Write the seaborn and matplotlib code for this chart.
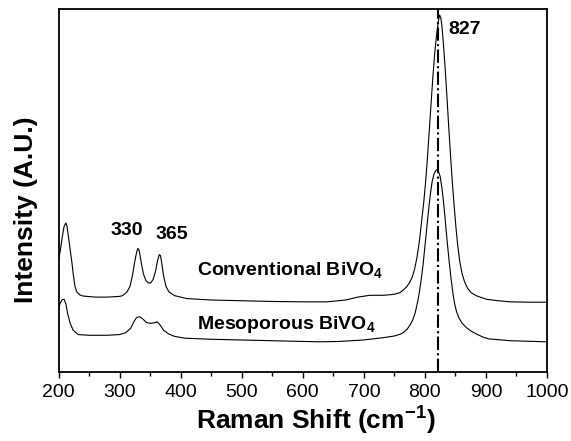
import matplotlib
matplotlib.use("Agg")
import matplotlib.pyplot as plt
from matplotlib.ticker import MultipleLocator
import seaborn as sns
import pandas as pd

# ---- data ----
conv_x = [200, 203, 206, 209, 212, 214, 216, 218, 220, 222, 224, 227, 230, 235, 240,
          260, 280, 300, 305, 312, 317, 321, 325, 328, 330, 332, 335, 339, 343, 347,
          351, 355, 359, 362, 365, 367, 369, 372, 376, 381, 390, 410, 450, 500, 550,
          600, 640, 670, 690, 710, 730, 740, 750, 759, 765, 770, 775, 779, 783, 787,
          791, 795, 798, 801, 804, 807, 810, 813, 816, 819, 822, 824, 826, 828, 830,
          833, 836, 839, 842, 845, 848, 851, 854, 857, 861, 865, 870, 876, 884, 892,
          901, 920, 940, 970, 1000]
conv_y = [30.8, 33.5, 37.0, 40.0, 41.0, 40.0, 37.5, 35.0, 32.5, 30.0, 27.0, 23.5, 22.0, 21.2, 20.9,
          20.6, 20.6, 20.8, 21.0, 22.0, 23.5, 26.5, 30.5, 33.0, 34.0, 33.5, 30.5, 27.0, 25.2, 24.5,
          24.5, 25.5, 27.8, 30.5, 32.3, 32.0, 30.0, 26.5, 23.5, 22.0, 21.0, 20.2, 19.8, 19.6, 19.4,
          19.3, 19.3, 19.8, 20.6, 21.1, 21.1, 21.2, 21.4, 21.8, 22.6, 23.4, 24.6, 26.0, 28.2, 31.5,
          36.0, 42.0, 46.5, 52.0, 58.5, 66.0, 73.5, 81.0, 87.5, 92.5, 96.5, 98.2, 97.5, 95.0, 91.0,
          84.0, 76.0, 67.5, 59.5, 52.0, 45.5, 39.5, 34.5, 30.5, 27.0, 24.8, 23.0, 21.8, 21.0, 20.5,
          20.0, 19.6, 19.3, 19.2, 19.2]

meso_x = [200, 203, 206, 209, 212, 215, 219, 224, 232, 250, 280, 300, 310, 318,
          324, 328, 333, 338, 344, 350, 356, 362, 366, 372, 380, 390, 407, 450,
          500, 550, 600, 628, 660, 699, 730, 750, 760, 766, 771, 776, 780, 784,
          788, 791, 794, 797, 800, 803, 806, 809, 812, 815, 818, 820, 822, 825,
          828, 831, 834, 837, 840, 843, 846, 849, 852, 856, 861, 868, 876, 885,
          895, 905, 940, 1000]
meso_y = [17.5, 19.0, 19.9, 20.0, 18.8, 16.0, 13.4, 11.5, 10.3, 10.1, 10.1, 10.3, 10.8, 12.0,
          14.0, 15.0, 15.2, 14.6, 13.6, 13.4, 13.5, 13.8, 13.0, 11.5, 10.5, 9.8, 9.3, 9.0,
          8.8, 8.6, 8.4, 8.3, 8.4, 8.8, 9.4, 9.9, 10.4, 11.0, 11.8, 13.0, 14.3, 16.2,
          19.2, 22.0, 25.5, 29.5, 34.5, 39.5, 44.5, 49.0, 52.5, 54.5, 55.5, 55.6, 55.3, 53.8,
          50.5, 46.0, 40.5, 35.0, 30.0, 25.5, 21.5, 18.5, 16.5, 14.8, 13.4, 12.2, 11.2, 10.4,
          9.6, 9.1, 8.6, 8.3]

marker_line_x = 821
peak_labels = ["330", "365", "827"]
peak_label_x = [311, 386, 838]
peak_label_y = [38.8, 37.8, 94.1]
series_names = ["Conventional BiVO$_\\mathbf{4}$", "Mesoporous BiVO$_\\mathbf{4}$"]
series_label_x = [426, 426]
series_label_y = [26.4, 11.8]
x_ticks = [200, 300, 400, 500, 600, 700, 800, 900, 1000]

# ---- style ----
sns.set_theme(style="white")
plt.rcParams["font.family"] = ["Liberation Sans", "DejaVu Sans"]
plt.rcParams["mathtext.fontset"] = "custom"
plt.rcParams["mathtext.rm"] = "Liberation Sans"
plt.rcParams["mathtext.bf"] = "Liberation Sans:bold"
plt.rcParams["text.color"] = "black"
plt.rcParams["axes.labelcolor"] = "black"
plt.rcParams["xtick.color"] = "black"
plt.rcParams["xtick.labelcolor"] = "black"

fig = plt.figure(figsize=(5.71, 4.41), dpi=100)
ax = fig.add_axes([0.1025, 0.1565, 0.8555, 0.8242])

df_c = pd.DataFrame({"x": conv_x, "y": conv_y})
df_m = pd.DataFrame({"x": meso_x, "y": meso_y})
sns.lineplot(data=df_c, x="x", y="y", ax=ax, color="black", lw=0.8,
             sort=False, estimator=None)
sns.lineplot(data=df_m, x="x", y="y", ax=ax, color="black", lw=0.8,
             sort=False, estimator=None)
ax.axvline(marker_line_x, color="black", lw=1.5, ls="-.")

for t, x, y in zip(peak_labels, peak_label_x, peak_label_y):
    ha = "left" if t == "827" else "center"
    ax.text(x, y, t, fontsize=14, fontweight="bold", ha=ha, va="center",
            color="black")
for t, x, y in zip(series_names, series_label_x, series_label_y):
    ax.text(x, y, t, fontsize=14, fontweight="bold", ha="left", va="baseline",
            color="black")

ax.set_xlim(200, 1000)
ax.set_ylim(0, 100)
ax.set_xticks(x_ticks)
ax.xaxis.set_minor_locator(MultipleLocator(50))
ax.set_yticks([])
ax.tick_params(axis="x", which="major", direction="out", length=4.5, width=1,
               labelsize=14, bottom=True, top=False, pad=4, colors="black",
               labelcolor="black")
ax.tick_params(axis="x", which="minor", direction="out", length=3, width=1,
               bottom=True, top=False, colors="black")
for s in ax.spines.values():
    s.set_linewidth(1.3)
    s.set_color("black")

ax.set_xlabel("Raman Shift (cm$^\\mathbf{-1}$)", fontsize=19, fontweight="bold",
              color="black")
ax.set_ylabel("Intensity (A.U.)", fontsize=19, fontweight="bold", color="black")
ax.xaxis.set_label_coords(0.527, -0.085)
ax.yaxis.set_label_coords(-0.042, 0.446)

fig.savefig("out.png", dpi=100)
